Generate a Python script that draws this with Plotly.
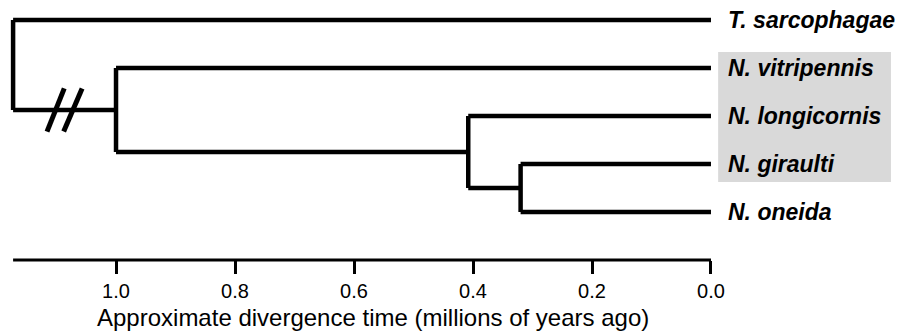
import plotly.graph_objects as go

# ---- data ----
species = ["T. sarcophagae", "N. vitripennis", "N. longicornis", "N. giraulti", "N. oneida"]
tip_time = [0.0, 0.0, 0.0, 0.0, 0.0]
highlighted = ["N. vitripennis", "N. longicornis", "N. giraulti"]
# internal nodes: (name, time in Myr ago, children)
node_names = ["root", "n_nasonia", "n_lgo", "n_go"]
node_times = [1.173, 1.0, 0.408, 0.32]
node_children = [["T. sarcophagae", "n_nasonia"],
                 ["N. vitripennis", "n_lgo"],
                 ["N. longicornis", "n_go"],
                 ["N. giraulti", "N. oneida"]]
tick_vals = [1.0, 0.8, 0.6, 0.4, 0.2, 0.0]
tick_text = ["1.0", "0.8", "0.6", "0.4", "0.2", "0.0"]
axis_title = "Approximate divergence time (millions of years ago)"

FONT = "Liberation Sans, Arial, Helvetica"

# ---- layout of the tree ----
xpos = {s: t for s, t in zip(species, tip_time)}
ypos = {s: i for i, s in enumerate(species)}
for name, t in zip(node_names, node_times):
    xpos[name] = t
for name, ch in reversed(list(zip(node_names, node_children))):
    ypos[name] = (ypos[ch[0]] + ypos[ch[1]]) / 2

xs, ys = [], []
for name, ch in zip(node_names, node_children):
    xs += [xpos[name], xpos[name], None]
    ys += [ypos[ch[0]], ypos[ch[1]], None]
    for c in ch:
        xs += [xpos[name], xpos[c], None]
        ys += [ypos[c], ypos[c], None]

fig = go.Figure()
fig.add_trace(go.Scatter(x=xs, y=ys, mode="lines",
                         line=dict(color="black", width=4.5),
                         hoverinfo="skip", showlegend=False))

# highlight box behind Nasonia ingroup
hi_idx = [ypos[s] for s in highlighted]
fig.add_shape(type="rect", xref="x", yref="y",
              x0=-0.012, x1=-0.3025, y0=min(hi_idx) - 0.333, y1=max(hi_idx) + 0.375,
              fillcolor="#d9d9d9", line=dict(width=0), layer="below")

# species labels
for s in species:
    fig.add_annotation(x=xpos[s], y=ypos[s], text="<b><i>" + s + "</i></b>",
                       xref="x", yref="y", xanchor="left", yanchor="middle",
                       xshift=15, showarrow=False,
                       font=dict(family=FONT, size=23, color="black"))

# break marks on root branch
root_y = ypos["n_nasonia"]
for x0, x1 in [(1.116, 1.087), (1.088, 1.057)]:
    fig.add_shape(type="line", xref="x", yref="y",
                  x0=x0, x1=x1, y0=root_y + 0.45, y1=root_y - 0.45,
                  line=dict(color="black", width=5))

# axis line (only spanning the tree)
fig.add_shape(type="line", xref="x", yref="paper",
              x0=node_times[0], x1=0.0, y0=0, y1=0,
              line=dict(color="black", width=3))

# axis title
fig.add_annotation(x=0.415, y=0, xref="paper", yref="paper", yshift=-57,
                   xanchor="center", yanchor="middle", showarrow=False,
                   text=axis_title, font=dict(family=FONT, size=24, color="black"))

fig.update_layout(
    width=899, height=333,
    margin=dict(l=0, r=0, t=0, b=73),
    paper_bgcolor="white", plot_bgcolor="white",
    xaxis=dict(range=[1.195, -0.316], tickvals=tick_vals, ticktext=tick_text,
               ticks="outside", ticklen=13, tickwidth=3, tickcolor="black",
               showgrid=False, zeroline=False, showline=False,
               tickfont=dict(family=FONT, size=20, color="black")),
    yaxis=dict(range=[5.0, -0.4167], visible=False, showgrid=False, zeroline=False),
)

fig.write_html("out.html")
